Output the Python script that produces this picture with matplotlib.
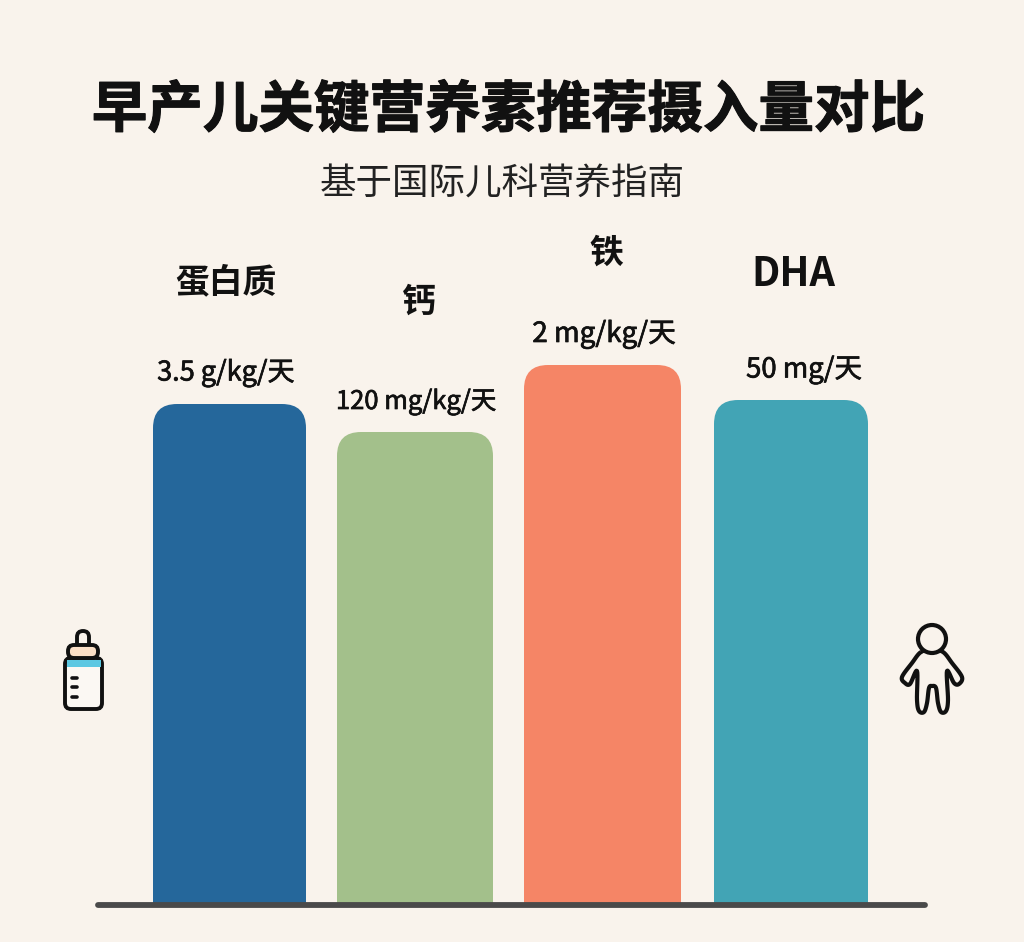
import numpy as np
import matplotlib
matplotlib.use("Agg")
import matplotlib.pyplot as plt
import matplotlib.patheffects as pe
from matplotlib.path import Path
from matplotlib.patches import PathPatch, FancyBboxPatch, Circle, Rectangle

plt.rcParams['font.family'] = ['Noto Sans CJK SC', 'DejaVu Sans']

title = "早产儿关键营养素推荐摄入量对比"
subtitle = "基于国际儿科营养指南"
nutrients = ["蛋白质", "钙", "铁", "DHA"]
value_labels = ["3.5 g/kg/天", "120 mg/kg/天", "2 mg/kg/天", "50 mg/天"]
# bar heights as drawn, the bars are not to scale with the labels
bar_heights = [501, 473, 540, 505]
bar_left = [153, 337, 524, 714]
bar_width = [153, 156, 157, 154]
bar_colors = ["#25679B", "#A3C08B", "#F58566", "#42A4B5"]
name_pos = [(226, 282), (419, 301), (606, 252), (793, 275)]
name_sizes = [24.3, 24.3, 24.3, 28.6]
value_pos = [(226, 373), (416, 402), (604, 334), (804, 370)]
value_sizes = [19.5, 18.4, 20, 19.8]

BG = "#F9F3EC"
INK = "#111111"
BASE = 905


def rounded_top(x, w, h, r=24):
    top = BASE - h
    verts = [(x, BASE), (x, top + r), (x, top), (x + r, top), (x + w - r, top),
             (x + w, top), (x + w, top + r), (x + w, BASE), (x, BASE)]
    codes = [Path.MOVETO, Path.LINETO, Path.CURVE3, Path.CURVE3, Path.LINETO,
             Path.CURVE3, Path.CURVE3, Path.LINETO, Path.CLOSEPOLY]
    return Path(verts, codes)


def smooth(pts, n=8):
    # closed catmull-rom through the outline points
    pts = np.array(pts, dtype=float)
    out = []
    for i in range(len(pts)):
        p0, p1, p2, p3 = pts[i - 1], pts[i], pts[(i + 1) % len(pts)], pts[(i + 2) % len(pts)]
        for t in np.linspace(0, 1, n, endpoint=False):
            out.append(0.5 * (2 * p1 + (p2 - p0) * t + (2 * p0 - 5 * p1 + 4 * p2 - p3) * t ** 2
                              + (3 * p1 - p0 - 3 * p2 + p3) * t ** 3))
    out.append(out[0])
    return Path(np.array(out))


def draw_bottle(ax):
    lw = 2.8
    ax.add_patch(FancyBboxPatch((77, 631), 12, 20, boxstyle="round,pad=0,rounding_size=6",
                                fc=BG, ec=INK, lw=lw, zorder=3))
    ax.add_patch(FancyBboxPatch((68, 645), 30, 13, boxstyle="round,pad=0,rounding_size=6",
                                fc="#FBDFC6", ec=INK, lw=lw, zorder=4))
    ax.add_patch(FancyBboxPatch((65, 658), 37, 51, boxstyle="round,pad=0,rounding_size=6",
                                fc="#FBF8F3", ec=INK, lw=lw, zorder=3))
    ax.add_patch(Rectangle((66.5, 660), 34, 7, fc="#5CC8E2", ec="none", zorder=4))
    for y in [678, 687, 697]:
        ax.plot([72, 77], [y, y], color=INK, lw=2.6, solid_capstyle="round", zorder=5)


def draw_child(ax):
    outline = [(921, 652), (912, 663), (902, 677), (905, 683), (910, 684), (917, 671),
               (917, 700), (919, 711), (924, 712), (927, 703), (929, 688), (932, 686),
               (936, 688), (938, 703), (941, 712), (946, 711), (948, 700), (947, 671),
               (954, 683), (959, 684), (962, 677), (952, 663), (943, 652), (932, 650)]
    ax.add_patch(PathPatch(smooth(outline), fc=BG, ec=INK, lw=3, joinstyle="round", zorder=3))
    ax.add_patch(Circle((932, 639), 14, fc=BG, ec=INK, lw=3, zorder=4))


fig = plt.figure(figsize=(10.24, 9.42), dpi=100, facecolor=BG)
ax = fig.add_axes([0, 0, 1, 1])
ax.set_xlim(0, 1024)
ax.set_ylim(942, 0)
ax.axis("off")

for x, w, h, c in zip(bar_left, bar_width, bar_heights, bar_colors):
    ax.add_patch(PathPatch(rounded_top(x, w, h), fc=c, ec="none", zorder=2))

ax.plot([98, 925], [905, 905], color="#4A4A4A", lw=4.2, solid_capstyle="round", zorder=3)

heavy = [pe.withStroke(linewidth=0.8, foreground=INK)]
thin = [pe.withStroke(linewidth=0.5, foreground=INK)]

ax.text(508, 111, title, fontsize=40, fontweight="bold", color=INK, ha="center", va="center",
        path_effects=heavy)
ax.text(502, 185, subtitle, fontsize=26.3, color="#222222", ha="center", va="center")

for (x, y), name, size in zip(name_pos, nutrients, name_sizes):
    ax.text(x, y, name, fontsize=size, fontweight="bold", color=INK, ha="center", va="center")
for (x, y), val, size in zip(value_pos, value_labels, value_sizes):
    ax.text(x, y, val, fontsize=size, color=INK, ha="center", va="center", path_effects=thin)

draw_bottle(ax)
draw_child(ax)

fig.savefig("out.png", dpi=100, facecolor=BG)
